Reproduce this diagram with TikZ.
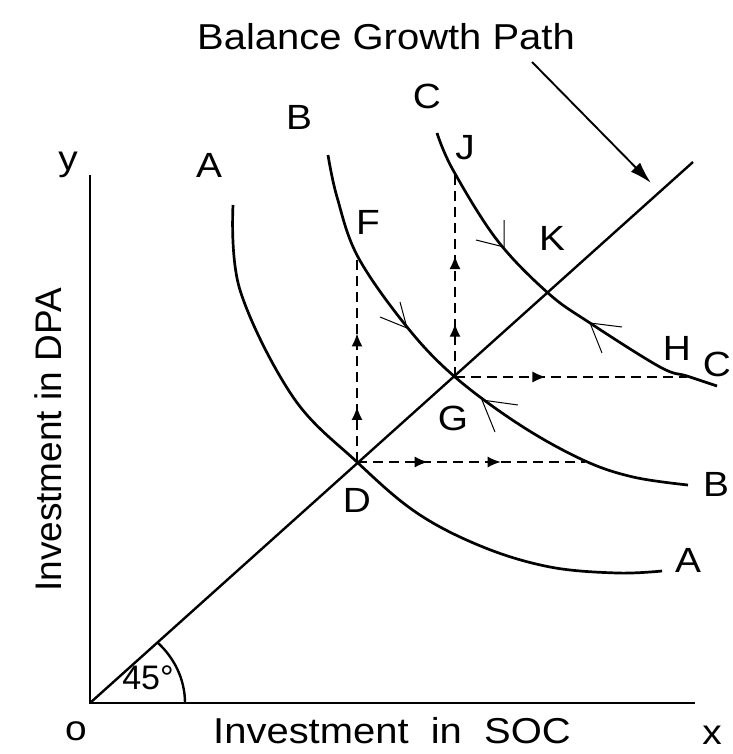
\documentclass[tikz,border=0pt]{standalone}
\usepackage{fontspec}
\setmainfont{Liberation Sans}
\newfontfamily\widefont{Liberation Sans}[FakeStretch=1.11]
\usetikzlibrary{arrows.meta,decorations.markings}

\tikzset{
	curve/.style={line width=2.7pt},
	axis/.style={line width=2.4pt},
	guide/.style={line width=1.4pt, dash pattern=on 10pt off 6pt},
	tick/.style={line width=1pt},
	lbl/.style={font=\widefont\fontsize{35}{35}\selectfont, inner sep=0pt},
	big/.style={font=\widefont\fontsize{36}{36}\selectfont, inner sep=0pt},
	flowone/.style={postaction={decorate}, decoration={markings,
		mark=at position #1 with {\arrow{Latex[length=13pt,width=11pt]}}}},
	flowtwo/.style 2 args={postaction={decorate}, decoration={markings,
		mark=at position #1 with {\arrow{Latex[length=13pt,width=11pt]}},
		mark=at position #2 with {\arrow{Latex[length=13pt,width=11pt]}}}}
}

\begin{document}
\begin{tikzpicture}[x=1pt, y=-1pt]
	\useasboundingbox (0,0) rectangle (732,754);

	% points on the diagram
	\coordinate (O) at (90,703);
	\coordinate (xend) at (695,703);
	\coordinate (yend) at (90,175);
	\coordinate (pathend) at (693,162);
	\coordinate (D) at (357,462);
	\coordinate (G) at (455,377);
	\coordinate (Ftop) at (357,258);
	\coordinate (Jtop) at (455,172);
	\coordinate (Bcut) at (585,462);
	\coordinate (Ccut) at (687,377);

	% axes and balanced growth line
	\draw[axis] (yend) -- (O) -- (xend);
	\draw[axis] (O) -- (pathend);
	\draw[axis] (185,703) arc[start angle=0, end angle=-45, x radius=95, y radius=86];

	% curves A, B, C
	\draw[curve] plot[smooth, tension=0.6] coordinates{(233,205) (240,290) (293,397) (357,462) (417,513) (483,547) (550,567) (617,573) (662,571)};
	\draw[curve] plot[smooth, tension=0.6] coordinates{(328,155) (337,197) (358,257) (407,327) (455,377) (520,425) (583,460) (633,477) (688,485)};
	\draw[curve] plot[smooth, tension=0.6] coordinates{(437,133) (453,170) (497,240) (548,293) (590,323) (660,367) (687,376) (717,386)};

	% dashed paths
	\draw[guide, flowtwo={0.27}{0.63}] (D) -- (Ftop);
	\draw[guide, flowtwo={0.31}{0.63}] (D) -- (Bcut);
	\draw[guide, flowtwo={0.26}{0.59}] (G) -- (Jtop);
	\draw[guide, flowone={0.39}] (G) -- (Ccut);

	% small arrow marks on curves
	\draw[tick] (380,317) -- (407,328) -- (400,302);
	\draw[tick] (476,240) -- (504,247) -- (504,220);
	\draw[tick] (518,405) -- (482,400) -- (495,432);
	\draw[tick] (622,327) -- (590,323) -- (602,353);

	% pointer to the path
	\coordinate (tail) at (532,62);
	\coordinate (head) at (651,183);
	\draw[line width=1.9pt, -{Latex[length=22pt,width=13pt]}] (tail) -- (head);

	% labels
	\node[big] (title) at (386,37) {Balance Growth Path};
	\node[lbl] (lAt) at (209,165) {A};
	\node[lbl] (lBt) at (299,117) {B};
	\node[lbl] (lCt) at (427,96) {C};
	\node[lbl] (lJ) at (465,148) {J};
	\node[lbl] (lF) at (368,222) {F};
	\node[lbl] (lK) at (552,238) {K};
	\node[lbl] (lG) at (453,418) {G};
	\node[lbl] (lD) at (357,500) {D};
	\node[lbl] (lH) at (677,348) {H};
	\node[lbl] (lAr) at (688,560) {A};
	\node[lbl] (lBr) at (716,484) {B};
	\node[lbl] (lCr) at (717,364) {C};
	\node[lbl] (ly) at (68,165) {y};
	\node[lbl] (lx) at (712,735) {x};
	\node[lbl] (lo) at (76,731) {o};
	\node[font=\fontsize{34}{34}\selectfont, inner sep=0pt] (angle) at (148,678) {45°};
	\node[big] (xlabel) at (392,731) {Investment~~in~~SOC};
	\node[font=\fontsize{37}{37}\selectfont, inner sep=0pt, rotate=90] (ylabel) at (48,440) {Investment in DPA};
\end{tikzpicture}
\end{document}
